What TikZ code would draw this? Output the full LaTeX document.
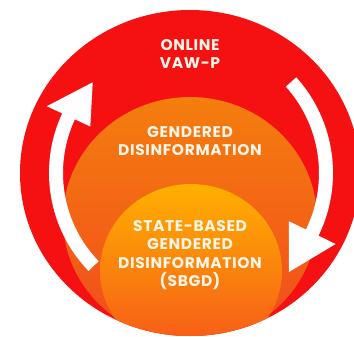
\documentclass[tikz,border=0pt]{standalone}
\usepackage{fontspec}
\setmainfont{Poppins}[LetterSpace=4]
\usepackage{xcolor}
\usetikzlibrary{positioning}
\definecolor{ringred}{RGB}{245,16,18}
\definecolor{midtop}{RGB}{244,126,14}
\definecolor{midbot}{RGB}{242,74,28}
\definecolor{intop}{RGB}{255,176,0}
\definecolor{inbot}{RGB}{246,84,26}
\definecolor{txtcol}{RGB}{255,246,232}

\begin{document}
\begin{tikzpicture}[x=1pt,y=-1pt]
    \tikzstyle{ringtext}=[text=txtcol,font=\bfseries\fontsize{15.5}{18.5}\selectfont,align=center,inner sep=0pt]
    \tikzstyle{turn}=[fill=white]

    \useasboundingbox (0,0) rectangle (354,337);
    \clip (0,0) rectangle (354,337);

    % rings
    \coordinate (o) at (190,173);
    \fill[ringred] (o) ellipse [x radius=170pt, y radius=163pt];
    \begin{scope}
        \clip (o) ellipse [x radius=170pt, y radius=163pt];
        \shade[top color=midtop,bottom color=midbot] (190,219) ellipse [x radius=127pt, y radius=122pt];
        \shade[top color=intop,bottom color=inbot] (191,271) ellipse [x radius=91pt, y radius=87pt];
    \end{scope}

    % arrows
    \fill[turn] ([shift={(224:141pt)}]o) arc[start angle=224, end angle=155, radius=141pt]
        -- ([shift={(155:158pt)}]o) -- ([shift={(137:133pt)}]o) -- ([shift={(155:110pt)}]o)
        -- ([shift={(155:127pt)}]o) arc[start angle=155, end angle=224, radius=127pt] -- cycle;
    \fill[turn] ([shift={(42:143pt)}]o) arc[start angle=42, end angle=-26, radius=143pt]
        -- ([shift={(-26:162pt)}]o) -- ([shift={(-45:140pt)}]o) -- ([shift={(-26:110pt)}]o)
        -- ([shift={(-26:129pt)}]o) arc[start angle=-26, end angle=42, radius=129pt] -- cycle;

    \node[ringtext] (a) at (190,54) {ONLINE\\VAW-P};
    \node[ringtext] (b) at (190,141) {GENDERED\\DISINFORMATION};
    \node[ringtext] (c) at (190,255) {STATE-BASED\\GENDERED\\DISINFORMATION\\(SBGD)};
\end{tikzpicture}
\end{document}
